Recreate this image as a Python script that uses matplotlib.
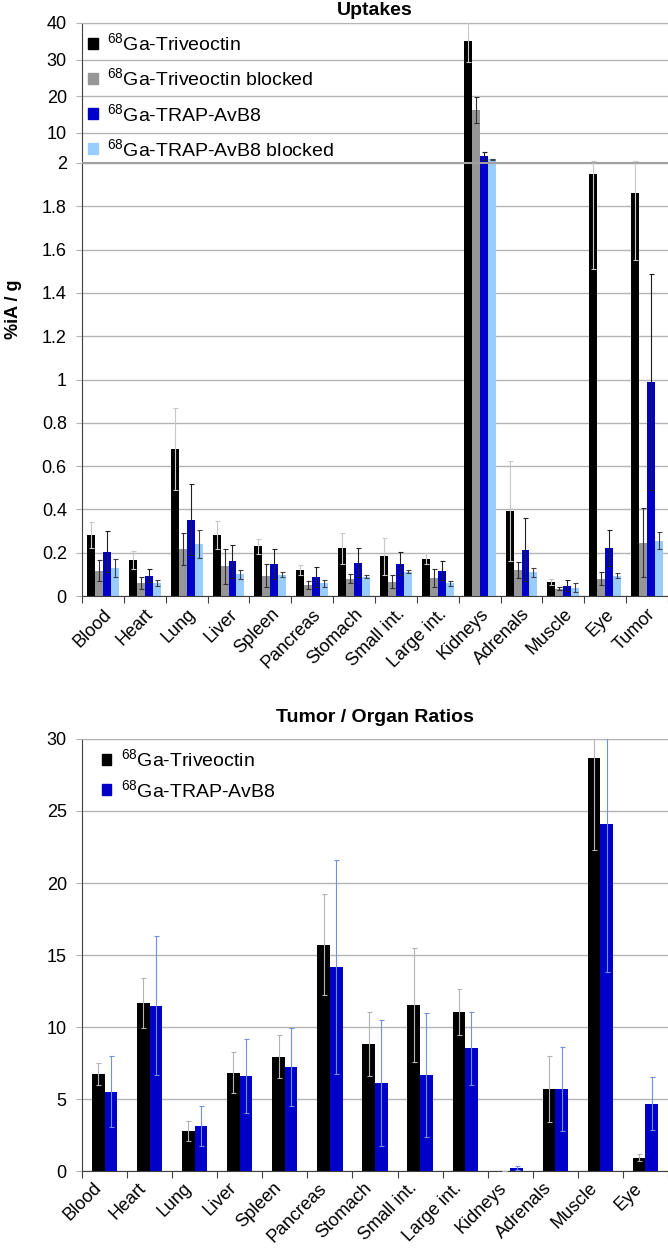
import numpy as np
import matplotlib
matplotlib.use("Agg")
from matplotlib import pyplot as plt
from matplotlib.patches import Rectangle
from matplotlib.transforms import ScaledTranslation

plt.rcParams['font.family'] = ['Liberation Sans', 'DejaVu Sans']
plt.rcParams['mathtext.fontset'] = 'custom'
plt.rcParams['mathtext.rm'] = 'Liberation Sans'
plt.rcParams['mathtext.default'] = 'regular'

# uptakes chart data
organs = ["Blood", "Heart", "Lung", "Liver", "Spleen", "Pancreas", "Stomach",
          "Small int.", "Large int.", "Kidneys", "Adrenals", "Muscle", "Eye", "Tumor"]
trive = [0.28, 0.166, 0.68, 0.28, 0.23, 0.12, 0.22, 0.184, 0.172, 35.2, 0.394, 0.064, 1.95, 1.86]
trive_err = [0.06, 0.04, 0.19, 0.065, 0.035, 0.025, 0.07, 0.085, 0.026, 5.8, 0.23, 0.014, 0.44, 0.31]
trive_blk = [0.117, 0.06, 0.216, 0.137, 0.094, 0.052, 0.08, 0.067, 0.084, 16.2, 0.12, 0.034, 0.081, 0.247]
trive_blk_err = [0.049, 0.028, 0.074, 0.082, 0.053, 0.018, 0.02, 0.028, 0.041, 3.5, 0.036, 0.006, 0.029, 0.16]
trap = [0.205, 0.094, 0.353, 0.16, 0.15, 0.09, 0.153, 0.15, 0.117, 3.7, 0.214, 0.047, 0.22, 0.988]
trap_err = [0.095, 0.031, 0.164, 0.076, 0.069, 0.046, 0.067, 0.053, 0.043, 1.1, 0.146, 0.025, 0.083, 0.5]
trap_blk = [0.13, 0.06, 0.24, 0.10, 0.098, 0.058, 0.09, 0.113, 0.058, 2.7, 0.109, 0.039, 0.094, 0.256]
trap_blk_err = [0.04, 0.015, 0.066, 0.02, 0.012, 0.014, 0.007, 0.007, 0.012, 0.05, 0.021, 0.021, 0.011, 0.041]

# tumor / organ ratio data
ratio_organs = organs[:-1]
ratio_trive = [6.74, 11.67, 2.82, 6.83, 7.96, 15.72, 8.82, 11.55, 11.04, 0.05, 5.69, 28.65, 0.95]
ratio_trive_err = [0.76, 1.75, 0.7, 1.42, 1.47, 3.52, 2.2, 3.95, 1.6, 0.0, 2.3, 6.35, 0.27]
ratio_trap = [5.53, 11.5, 3.13, 6.62, 7.25, 14.17, 6.11, 6.67, 8.52, 0.23, 5.69, 24.1, 4.68]
ratio_trap_err = [2.46, 4.83, 1.39, 2.55, 2.72, 7.4, 4.39, 4.32, 2.56, 0.12, 2.9, 10.3, 1.85]

labels4 = [r'$^{68}$Ga-Triveoctin', r'$^{68}$Ga-Triveoctin blocked',
           r'$^{68}$Ga-TRAP-AvB8', r'$^{68}$Ga-TRAP-AvB8 blocked']
colors4 = ['#000000', '#969696', '#0000c8', '#99ccff']
ecolors4 = ['#c8c8c8', '#303030', '#202020', '#404040']

grid_c = '#b4b4b4'
axis_c = '#404040'
fs = 13


def style_x(ax, names, show_labels, pad=7):
    n = len(names)
    ax.set_xlim(-0.5, n - 0.5)
    ax.set_xticks(np.arange(n + 1) - 0.5)
    ax.set_xticklabels([])
    ax.tick_params(axis='x', which='major', length=5, color=axis_c, direction='out')
    if show_labels:
        ax.set_xticks(np.arange(n), minor=True)
        ax.set_xticklabels(names, minor=True, rotation=45, ha='right', va='top',
                           rotation_mode='anchor', fontsize=fs)
        ax.tick_params(axis='x', which='minor', length=0, pad=pad)
    else:
        ax.tick_params(axis='x', which='major', length=0)


def bars4(ax):
    x = np.arange(len(organs))
    w = 0.19
    series = [(trive, trive_err), (trive_blk, trive_blk_err), (trap, trap_err), (trap_blk, trap_blk_err)]
    for i, (v, e) in enumerate(series):
        xs = x + (i - 1.5) * w
        ax.bar(xs, v, w, color=colors4[i], zorder=2)
        ax.errorbar(xs, v, yerr=e, fmt='none', ecolor=ecolors4[i], elinewidth=0.8,
                    capsize=1.8, capthick=0.8, zorder=3)


fig = plt.figure(figsize=(6.68, 12.48), dpi=100)
left, width = 0.1228, 0.8772
ax_hi = fig.add_axes([left, 0.8702, width, 0.1114])
ax_lo = fig.add_axes([left, 0.5224, width, 0.3470])
ax2 = fig.add_axes([left, 0.0615, width, 0.3464])

# broken y axis for uptakes
bars4(ax_hi)
bars4(ax_lo)
ax_hi.set_ylim(2, 40)
ax_hi.set_yticks([10, 20, 30, 40])
ax_lo.set_ylim(0, 2)
ax_lo.set_yticks(np.arange(0, 2.01, 0.2))
ax_lo.set_yticklabels(['0', '0.2', '0.4', '0.6', '0.8', '1', '1.2', '1.4', '1.6', '1.8', '2'])
style_x(ax_hi, organs, False)
style_x(ax_lo, organs, True)

for ax in (ax_hi, ax_lo, ax2):
    ax.grid(axis='y', color=grid_c, linewidth=1, zorder=0)
    ax.set_axisbelow(True)
    ax.spines['right'].set_visible(False)
    ax.spines['top'].set_color(grid_c)
    ax.spines['left'].set_color(axis_c)
    ax.spines['bottom'].set_color(axis_c)
    ax.tick_params(axis='y', length=4, color=grid_c, labelsize=fs, pad=7)
ax_hi.spines['bottom'].set_color('#a0a0a0')
ax_lo.spines['top'].set_color('#a0a0a0')

ax_hi.set_title('Uptakes', fontweight='bold', fontsize=14, pad=6)
fig.text(0.02, 0.752, '%iA / g', rotation=90, fontweight='bold', fontsize=fs,
         ha='center', va='center')

handles = [Rectangle((0, 0), 1, 1, color=c) for c in colors4]
leg = ax_hi.legend(handles, labels4, loc='upper left', bbox_to_anchor=(-0.01, 1.015),
                   frameon=False, fontsize=14, handlelength=0.5, handleheight=0.5,
                   handletextpad=0.5, labelspacing=0.68, borderaxespad=0.2)
leg.set_zorder(5)

# tumor / organ ratios
x2 = np.arange(len(ratio_organs))
w2 = 0.28
ax2.bar(x2 - w2 / 2, ratio_trive, w2, color='#000000', zorder=2)
ax2.errorbar(x2 - w2 / 2, ratio_trive, yerr=ratio_trive_err, fmt='none', ecolor='#b4b4b4',
             elinewidth=0.8, capsize=1.8, capthick=0.8, zorder=3)
ax2.bar(x2 + w2 / 2, ratio_trap, w2, color='#0000c8', zorder=2)
ax2.errorbar(x2 + w2 / 2, ratio_trap, yerr=ratio_trap_err, fmt='none', ecolor='#7090e0',
             elinewidth=0.8, capsize=1.8, capthick=0.8, zorder=3)
ax2.set_ylim(0, 30)
ax2.set_yticks(np.arange(0, 31, 5))
style_x(ax2, ratio_organs, True, pad=6)
shift = ScaledTranslation(-0.12, 0.0, fig.dpi_scale_trans)
for lab in ax2.get_xticklabels(minor=True):
    lab.set_transform(lab.get_transform() + shift)
ax2.set_title('Tumor / Organ Ratios', fontweight='bold', fontsize=14, pad=12)
handles2 = [Rectangle((0, 0), 1, 1, color=c) for c in ['#000000', '#0000c8']]
ax2.legend(handles2, [labels4[0], labels4[2]], loc='upper left', bbox_to_anchor=(0.01, 1.01),
           frameon=False, fontsize=14, handlelength=0.5, handleheight=0.5,
           handletextpad=0.5, labelspacing=0.45, borderaxespad=0.3)

plt.savefig('out.png', dpi=100)
